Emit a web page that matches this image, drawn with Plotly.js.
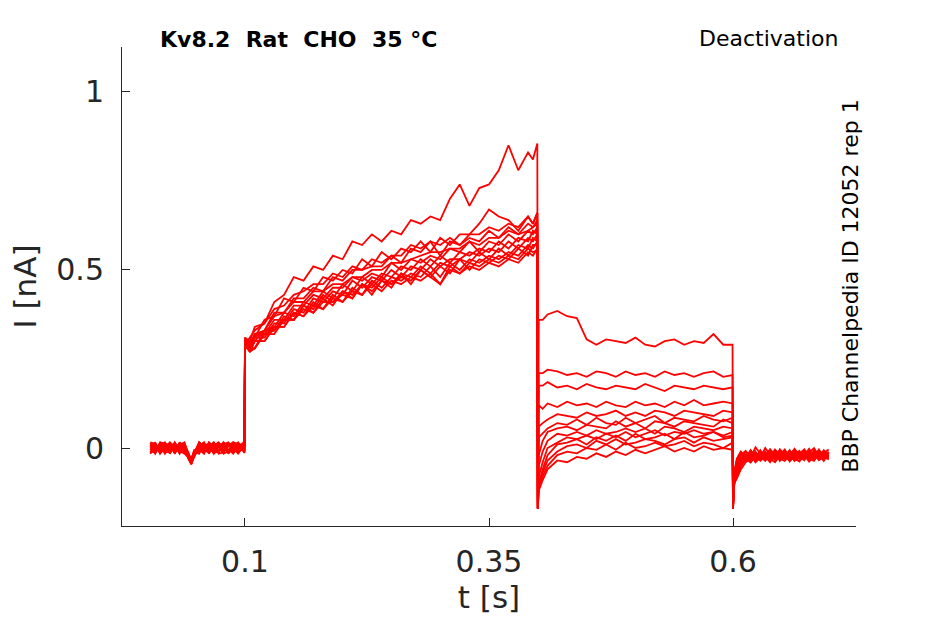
<!DOCTYPE html>
<html>
<head>
<meta charset="utf-8">
<script src="https://cdn.plot.ly/plotly-3.0.1.min.js"></script>
<style>
  html, body { margin: 0; padding: 0; background: #ffffff; }
  #chart { width: 945px; height: 624px; }
</style>
</head>
<body>
<div id="chart"></div>
<script>
// time base [s] shared by all sweeps: baseline | step | activation | drop | tail | drop | end
var tBase = [0.003, 0.008, 0.013, 0.018, 0.023, 0.028, 0.033, 0.038, 0.042, 0.045, 0.048, 0.053, 0.058,
             0.063, 0.068, 0.073, 0.078, 0.083, 0.088, 0.093, 0.0995];
var tStep = [0.1];
var tRise = [0.105, 0.11, 0.12, 0.13, 0.14, 0.15, 0.16, 0.17, 0.18, 0.19, 0.2, 0.21, 0.22, 0.23, 0.24, 0.25,
             0.26, 0.27, 0.28, 0.29, 0.3, 0.31, 0.32, 0.33, 0.34, 0.35, 0.36, 0.37, 0.38, 0.39, 0.395, 0.3995];
var tDrop1 = [0.4, 0.401];
var tTail = [0.405, 0.41, 0.42, 0.43, 0.44, 0.45, 0.46, 0.47, 0.48, 0.49, 0.5, 0.51, 0.52, 0.53, 0.54, 0.55,
             0.56, 0.57, 0.58, 0.59, 0.5995];
var tDrop2 = [0.6, 0.601];
var tEnd = [0.604, 0.608, 0.613, 0.618, 0.623, 0.628, 0.633, 0.638, 0.643, 0.648, 0.653, 0.658, 0.663,
            0.668, 0.673, 0.678, 0.683, 0.688, 0.693, 0.698];

// current [nA], one array per sweep, same order as the time base
var sweep01 = [0.008, -0.012, 0.014, -0.006, 0.01, -0.014, 0.004, 0.012, -0.02, -0.035, -0.01, 0.006, -0.012, 0.014, -0.004, 0.01, -0.014, 0.008, 0.016, -0.006, 0.02,
  0.31,
  0.30, 0.34, 0.35, 0.41, 0.43, 0.48, 0.47, 0.51, 0.50, 0.54, 0.53, 0.58, 0.57, 0.60, 0.58, 0.61,
  0.60, 0.64, 0.63, 0.65, 0.64, 0.70, 0.74, 0.68, 0.73, 0.74, 0.78, 0.85, 0.78, 0.83, 0.81, 0.855,
  -0.17, 0.36,
  0.36, 0.375, 0.385, 0.37, 0.365, 0.305, 0.29, 0.305, 0.30, 0.295, 0.31, 0.29, 0.285, 0.30, 0.305, 0.29,
  0.30, 0.295, 0.32, 0.29, 0.29,
  -0.17, -0.08,
  -0.03, -0.012, -0.028, -0.006, -0.024, -0.01, -0.03, -0.004, -0.018, -0.026, -0.008, -0.022, -0.002, -0.02, -0.012, -0.028, -0.006, -0.018, -0.024, -0.01];
var sweep02 = [-0.012, 0.01, -0.004, 0.016, -0.014, 0.006, -0.01, 0.0, -0.03, -0.045, -0.02, -0.008, 0.012, -0.006, 0.016, -0.012, 0.006, -0.01, 0.012, 0.004, 0.008,
  0.30,
  0.30, 0.31, 0.36, 0.37, 0.42, 0.41, 0.45, 0.44, 0.48, 0.47, 0.50, 0.49, 0.53, 0.51, 0.55, 0.53,
  0.56, 0.55, 0.58, 0.55, 0.59, 0.57, 0.60, 0.60, 0.63, 0.67, 0.65, 0.64, 0.61, 0.65, 0.63, 0.66,
  -0.15, 0.21,
  0.21, 0.22, 0.215, 0.205, 0.21, 0.2, 0.215, 0.21, 0.2, 0.215, 0.205, 0.21, 0.2, 0.215, 0.205, 0.21,
  0.2, 0.21, 0.215, 0.2, 0.205,
  -0.15, -0.07,
  -0.045, -0.02, -0.008, -0.03, -0.014, -0.026, 0.0, -0.02, -0.032, -0.01, -0.024, -0.006, -0.03, -0.016, -0.004, -0.022, -0.028, -0.008, -0.016, -0.026];
var sweep03 = [0.014, -0.006, 0.008, -0.016, 0.004, 0.012, -0.014, 0.008, -0.025, -0.04, -0.015, 0.014, -0.004, 0.008, -0.016, 0.004, 0.014, -0.008, -0.004, 0.014, -0.006,
  0.29,
  0.31, 0.33, 0.35, 0.39, 0.40, 0.43, 0.44, 0.46, 0.46, 0.49, 0.48, 0.51, 0.50, 0.53, 0.52, 0.54,
  0.54, 0.57, 0.56, 0.58, 0.57, 0.59, 0.57, 0.60, 0.60, 0.62, 0.61, 0.63, 0.62, 0.65, 0.63, 0.66,
  -0.14, 0.175,
  0.175, 0.185, 0.17, 0.175, 0.165, 0.18, 0.17, 0.165, 0.175, 0.17, 0.165, 0.18, 0.17, 0.16, 0.175, 0.17,
  0.165, 0.175, 0.17, 0.165, 0.17,
  -0.16, -0.09,
  -0.06, -0.035, -0.018, -0.036, -0.01, -0.03, -0.02, -0.034, -0.008, -0.028, -0.016, -0.032, -0.012, -0.026, -0.034, -0.01, -0.022, -0.03, -0.012, -0.02];
var sweep04 = [-0.006, 0.016, -0.012, 0.006, 0.014, -0.008, 0.012, -0.01, -0.018, -0.038, -0.022, 0.004, 0.016, -0.014, 0.006, 0.016, -0.006, 0.012, -0.014, 0.008, 0.012,
  0.30,
  0.29, 0.32, 0.33, 0.38, 0.38, 0.42, 0.42, 0.45, 0.44, 0.48, 0.47, 0.50, 0.50, 0.51, 0.51, 0.54,
  0.52, 0.56, 0.55, 0.58, 0.54, 0.58, 0.57, 0.59, 0.58, 0.61, 0.59, 0.62, 0.60, 0.63, 0.62, 0.64,
  -0.16, 0.12,
  0.11, 0.125, 0.115, 0.13, 0.12, 0.125, 0.115, 0.13, 0.12, 0.115, 0.13, 0.12, 0.125, 0.115, 0.13, 0.12,
  0.135, 0.12, 0.125, 0.13, 0.125,
  -0.17, -0.1,
  -0.07, -0.045, -0.03, -0.02, -0.038, -0.016, -0.034, -0.024, -0.012, -0.036, -0.02, -0.01, -0.03, -0.036, -0.018, -0.028, -0.012, -0.034, -0.024, -0.016];
var sweep05 = [0.004, -0.016, 0.012, 0.008, -0.01, 0.016, -0.004, 0.014, -0.022, -0.03, -0.006, -0.014, 0.008, 0.012, -0.01, -0.006, 0.012, -0.016, 0.006, -0.012, 0.004,
  0.28,
  0.30, 0.31, 0.33, 0.37, 0.38, 0.41, 0.41, 0.44, 0.44, 0.46, 0.46, 0.48, 0.48, 0.50, 0.50, 0.52,
  0.52, 0.53, 0.54, 0.55, 0.55, 0.56, 0.56, 0.58, 0.57, 0.59, 0.59, 0.61, 0.60, 0.61, 0.62, 0.63,
  -0.17, 0.06,
  0.07, 0.08, 0.095, 0.09, 0.085, 0.1, 0.09, 0.095, 0.105, 0.09, 0.1, 0.09, 0.105, 0.1, 0.09, 0.105,
  0.1, 0.095, 0.09, 0.105, 0.1,
  -0.16, -0.09,
  -0.05, -0.026, -0.036, -0.014, -0.03, -0.006, -0.026, -0.014, -0.034, -0.018, -0.004, -0.026, -0.02, -0.008, -0.03, -0.016, -0.024, -0.004, -0.028, -0.014];
var sweep06 = [-0.016, 0.004, -0.008, 0.014, 0.002, -0.012, 0.016, -0.006, -0.028, -0.042, -0.018, 0.01, -0.006, -0.012, 0.014, 0.002, -0.01, 0.014, 0.002, 0.016, -0.01,
  0.30,
  0.28, 0.32, 0.32, 0.36, 0.36, 0.40, 0.40, 0.43, 0.42, 0.45, 0.45, 0.48, 0.47, 0.49, 0.48, 0.52,
  0.50, 0.53, 0.52, 0.54, 0.53, 0.56, 0.55, 0.58, 0.55, 0.58, 0.57, 0.60, 0.58, 0.61, 0.60, 0.62,
  -0.17, 0.03,
  0.04, 0.055, 0.07, 0.065, 0.08, 0.065, 0.085, 0.07, 0.065, 0.085, 0.07, 0.08, 0.09, 0.07, 0.085, 0.08,
  0.075, 0.09, 0.08, 0.075, 0.085,
  -0.17, -0.1,
  -0.075, -0.05, -0.026, -0.04, -0.018, -0.032, -0.01, -0.03, -0.022, -0.006, -0.028, -0.034, -0.014, -0.024, -0.008, -0.032, -0.018, -0.026, -0.006, -0.022];
var sweep07 = [0.01, 0.006, -0.014, -0.004, 0.016, 0.004, -0.012, 0.006, -0.016, -0.034, -0.026, 0.016, 0.002, 0.01, -0.008, 0.012, 0.008, -0.004, -0.016, 0.006, 0.014,
  0.29,
  0.29, 0.30, 0.33, 0.34, 0.38, 0.37, 0.41, 0.40, 0.44, 0.42, 0.46, 0.44, 0.48, 0.46, 0.49, 0.48,
  0.51, 0.50, 0.53, 0.51, 0.54, 0.52, 0.55, 0.54, 0.56, 0.55, 0.58, 0.56, 0.59, 0.58, 0.61, 0.60,
  -0.17, -0.02,
  0.02, 0.045, 0.055, 0.06, 0.05, 0.065, 0.06, 0.055, 0.075, 0.06, 0.07, 0.055, 0.075, 0.07, 0.06, 0.075,
  0.07, 0.065, 0.06, 0.08, 0.07,
  -0.16, -0.08,
  -0.04, -0.03, -0.01, -0.024, -0.034, -0.012, -0.02, -0.004, -0.026, -0.014, -0.03, -0.016, -0.006, -0.028, -0.02, -0.002, -0.024, -0.012, -0.03, -0.018];
var sweep08 = [-0.002, -0.01, 0.016, 0.012, -0.016, 0.008, 0.006, -0.014, -0.024, -0.044, -0.012, -0.004, -0.016, 0.016, 0.004, -0.014, 0.016, 0.004, 0.01, -0.014, 0.006,
  0.30,
  0.28, 0.31, 0.31, 0.35, 0.35, 0.39, 0.38, 0.42, 0.41, 0.44, 0.43, 0.47, 0.45, 0.48, 0.47, 0.50,
  0.48, 0.51, 0.50, 0.53, 0.51, 0.53, 0.53, 0.55, 0.54, 0.56, 0.55, 0.58, 0.56, 0.59, 0.58, 0.60,
  -0.17, -0.05,
  -0.01, 0.02, 0.04, 0.035, 0.045, 0.035, 0.05, 0.04, 0.045, 0.055, 0.045, 0.055, 0.04, 0.06, 0.055, 0.045,
  0.06, 0.055, 0.05, 0.06, 0.055,
  -0.17, -0.09,
  -0.065, -0.038, -0.022, -0.012, -0.03, -0.024, -0.036, -0.016, -0.01, -0.03, -0.014, -0.024, -0.034, -0.01, -0.026, -0.018, -0.032, -0.014, -0.02, -0.03];
var sweep09 = [0.016, 0.012, -0.002, -0.012, 0.006, -0.004, 0.014, 0.01, -0.012, -0.036, -0.02, 0.008, 0.014, -0.002, 0.012, 0.006, -0.016, -0.01, 0.014, 0.01, -0.014,
  0.31,
  0.28, 0.28, 0.33, 0.33, 0.37, 0.36, 0.40, 0.39, 0.43, 0.41, 0.44, 0.43, 0.46, 0.45, 0.48, 0.46,
  0.49, 0.48, 0.51, 0.49, 0.52, 0.51, 0.53, 0.52, 0.55, 0.53, 0.56, 0.54, 0.57, 0.56, 0.59, 0.58,
  -0.17, -0.08,
  -0.04, 0.0, 0.015, 0.03, 0.025, 0.035, 0.025, 0.04, 0.03, 0.045, 0.03, 0.04, 0.05, 0.035, 0.045, 0.04,
  0.05, 0.04, 0.045, 0.035, 0.045,
  -0.16, -0.08,
  -0.035, -0.018, -0.03, -0.008, -0.02, -0.034, -0.012, -0.026, -0.004, -0.02, -0.032, -0.008, -0.018, -0.03, -0.006, -0.024, -0.01, -0.028, -0.014, -0.004];
var sweep10 = [-0.014, -0.002, 0.01, 0.016, -0.006, 0.014, -0.008, -0.016, -0.026, -0.04, -0.016, 0.012, -0.01, 0.006, -0.014, -0.01, 0.01, 0.016, -0.008, -0.004, 0.016,
  0.29,
  0.27, 0.30, 0.30, 0.34, 0.34, 0.38, 0.37, 0.41, 0.39, 0.43, 0.41, 0.45, 0.43, 0.47, 0.45, 0.48,
  0.47, 0.49, 0.48, 0.51, 0.48, 0.52, 0.50, 0.53, 0.52, 0.54, 0.53, 0.55, 0.54, 0.57, 0.56, 0.58,
  -0.17, -0.1,
  -0.06, -0.02, 0.01, 0.015, 0.025, 0.01, 0.03, 0.02, 0.035, 0.02, 0.04, 0.025, 0.03, 0.04, 0.025, 0.045,
  0.03, 0.035, 0.045, 0.03, 0.035,
  -0.17, -0.1,
  -0.08, -0.052, -0.032, -0.018, -0.04, -0.026, -0.014, -0.036, -0.02, -0.028, -0.012, -0.038, -0.024, -0.016, -0.034, -0.006, -0.026, -0.02, -0.036, -0.012];
var sweep11 = [0.006, 0.014, -0.016, 0.002, 0.012, -0.016, 0.008, 0.016, -0.02, -0.032, -0.008, -0.016, 0.01, -0.016, 0.008, 0.014, 0.002, -0.012, 0.016, 0.012, -0.002,
  0.28,
  0.28, 0.28, 0.32, 0.32, 0.36, 0.36, 0.39, 0.38, 0.42, 0.40, 0.44, 0.42, 0.46, 0.44, 0.47, 0.45,
  0.49, 0.46, 0.50, 0.48, 0.51, 0.49, 0.53, 0.50, 0.53, 0.52, 0.54, 0.53, 0.56, 0.54, 0.57, 0.57,
  -0.17, -0.1,
  -0.07, -0.035, -0.01, 0.005, 0.01, 0.0, 0.02, 0.01, 0.025, 0.01, 0.015, 0.025, 0.02, 0.01, 0.025, 0.03,
  0.015, 0.03, 0.02, 0.025, 0.03,
  -0.16, -0.07,
  -0.03, -0.01, -0.024, -0.03, 0.002, -0.016, -0.026, -0.01, -0.03, -0.004, -0.02, -0.028, -0.008, -0.014, -0.024, -0.012, 0.0, -0.022, -0.01, -0.026];
var sweep12 = [-0.008, -0.014, 0.006, -0.01, -0.012, 0.01, -0.016, 0.004, -0.03, -0.046, -0.024, 0.002, -0.014, 0.004, 0.016, -0.016, -0.012, 0.01, -0.002, -0.016, 0.01,
  0.30,
  0.27, 0.30, 0.30, 0.34, 0.34, 0.38, 0.37, 0.40, 0.39, 0.42, 0.41, 0.44, 0.43, 0.46, 0.44, 0.47,
  0.46, 0.48, 0.47, 0.49, 0.46, 0.50, 0.49, 0.51, 0.50, 0.52, 0.51, 0.53, 0.52, 0.55, 0.54, 0.56,
  -0.17, -0.11,
  -0.08, -0.05, -0.02, -0.01, -0.015, 0.0, -0.005, 0.01, -0.005, 0.015, 0.0, 0.005, 0.015, 0.005, 0.01, 0.02,
  0.005, 0.015, 0.01, 0.0, 0.015,
  -0.17, -0.1,
  -0.085, -0.06, -0.04, -0.028, -0.02, -0.036, -0.024, -0.04, -0.016, -0.03, -0.036, -0.02, -0.028, -0.038, -0.018, -0.03, -0.036, -0.016, -0.026, -0.032];
var sweep13 = [0.012, 0.002, -0.01, 0.01, 0.008, -0.006, 0.002, -0.01, -0.016, -0.038, -0.014, 0.016, 0.006, -0.01, -0.006, 0.008, 0.014, -0.014, 0.008, 0.002, -0.008,
  0.29,
  0.27, 0.28, 0.32, 0.33, 0.36, 0.36, 0.40, 0.38, 0.41, 0.41, 0.43, 0.42, 0.46, 0.43, 0.47, 0.46,
  0.48, 0.47, 0.50, 0.48, 0.46, 0.51, 0.49, 0.52, 0.51, 0.53, 0.52, 0.54, 0.53, 0.56, 0.55, 0.555,
  -0.17, -0.12,
  -0.09, -0.06, -0.035, -0.04, -0.025, -0.03, -0.015, -0.025, -0.01, -0.02, -0.005, -0.015, -0.005, 0.005, -0.01, 0.0,
  -0.01, 0.005, -0.005, 0.0, -0.005,
  -0.17, -0.11,
  -0.07, -0.048, -0.03, -0.04, -0.024, -0.034, -0.018, -0.03, -0.04, -0.022, -0.03, -0.014, -0.036, -0.026, -0.02, -0.038, -0.024, -0.032, -0.018, -0.03];

var sweeps = [sweep01, sweep02, sweep03, sweep04, sweep05, sweep06, sweep07,
              sweep08, sweep09, sweep10, sweep11, sweep12, sweep13];

var xTicks = [0.1, 0.35, 0.6];
var xTickText = ['0.1', '0.35', '0.6'];
var yTicks = [0, 0.5, 1];
var yTickText = ['0', '0.5', '1'];

var tAll = [].concat(tBase, tStep, tRise, tDrop1, tTail, tDrop2, tEnd);

var axisColor = '#262626';

var traces = sweeps.map(function (s, i) {
    return {
        x: tAll,
        y: s,
        type: 'scatter',
        mode: 'lines',
        name: 'sweep ' + (i + 1),
        line: { color: '#ff0000', width: 1.8 },
        showlegend: false,
        hoverinfo: 'skip'
    };
});

var layout = {
    width: 945,
    height: 624,
    margin: { l: 122, r: 89, t: 47, b: 98 },
    paper_bgcolor: '#ffffff',
    plot_bgcolor: '#ffffff',
    font: { family: 'DejaVu Sans', color: axisColor },
    showlegend: false,
    xaxis: {
        range: [-0.026, 0.726],
        tickvals: xTicks,
        ticktext: xTickText,
        ticks: 'inside',
        ticklen: 8,
        tickcolor: axisColor,
        tickfont: { size: 30, color: axisColor },
        ticklabelstandoff: 9,
        showline: true,
        linecolor: axisColor,
        linewidth: 1,
        showgrid: false,
        zeroline: false,
        title: { text: 't [s]', font: { size: 31, color: axisColor }, standoff: 6 }
    },
    yaxis: {
        range: [-0.219, 1.126],
        tickvals: yTicks,
        ticktext: yTickText,
        ticks: 'inside',
        ticklen: 8,
        tickcolor: axisColor,
        tickfont: { size: 30, color: axisColor },
        ticklabelstandoff: 11,
        showline: true,
        linecolor: axisColor,
        linewidth: 1,
        showgrid: false,
        zeroline: false,
        title: { text: 'I [nA]', font: { size: 31, color: axisColor }, standoff: 10 }
    },
    annotations: [
        {
            text: '<b>Kv8.2\u00a0\u00a0Rat\u00a0\u00a0CHO\u00a0\u00a035 °C</b>',
            xref: 'paper', yref: 'paper',
            x: 0.24, y: 1.015,
            xanchor: 'center', yanchor: 'middle',
            showarrow: false,
            font: { size: 22, color: '#000000' }
        },
        {
            text: 'Deactivation',
            xref: 'paper', yref: 'paper',
            x: 0.978, y: 1.017,
            xanchor: 'right', yanchor: 'middle',
            showarrow: false,
            font: { size: 22, color: '#000000' }
        },
        {
            text: 'BBP Channelpedia ID 12052 rep 1',
            xref: 'paper', yref: 'paper',
            x: 0.992, y: 0.50,
            xanchor: 'center', yanchor: 'middle',
            textangle: -90,
            showarrow: false,
            font: { size: 22, color: '#000000' }
        }
    ]
};

var config = { responsive: false, displaylogo: false, displayModeBar: false, staticPlot: true };

Plotly.newPlot('chart', traces, layout, config);
</script>
</body>
</html>
